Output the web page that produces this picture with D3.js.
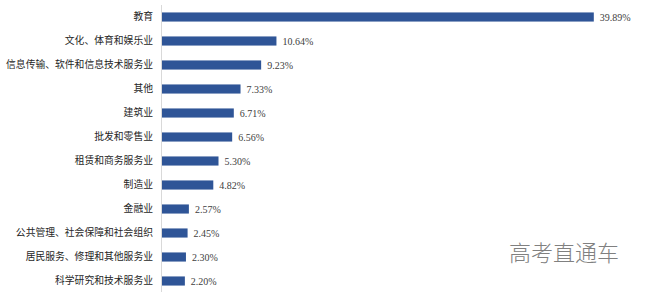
<!DOCTYPE html>
<html>
<head>
<meta charset="utf-8">
<script src="https://cdn.jsdelivr.net/npm/d3@7"></script>
<style>
  body { margin: 0; background: #fff; }
</style>
</head>
<body>
<script>
const categories = ['教育', '文化、体育和娱乐业', '信息传输、软件和信息技术服务业', '其他', '建筑业', '批发和零售业',
  '租赁和商务服务业', '制造业', '金融业', '公共管理、社会保障和社会组织', '居民服务、修理和其他服务业', '科学研究和技术服务业']
const values = [39.89, 10.64, 9.23, 7.33, 6.71, 6.56, 5.30, 4.82, 2.57, 2.45, 2.30, 2.20]
const labels = values.map(v => v.toFixed(2) + '%')

const width = 648, height = 292
const axisX = 161

const svg = d3.select('body').append('svg')
  .attr('width', width).attr('height', height)
  .attr('xmlns', 'http://www.w3.org/2000/svg')

const x = d3.scaleLinear().domain([0, 40]).range([axisX, axisX + 434])
const y = d3.scaleBand().domain(categories).range([5, 293]).paddingInner(0.62).paddingOuter(0.31)

svg.selectAll('rect.bar')
  .data(values)
  .enter()
  .append('rect')
  .attr('class', 'bar')
  .attr('x', x(0))
  .attr('y', (d, i) => y(categories[i]))
  .attr('width', d => x(d) - x(0))
  .attr('height', y.bandwidth())
  .style('fill', '#2F5597')

// category labels via left axis
const yAxis = svg.append('g')
  .attr('transform', `translate(${axisX}, 0)`)
  .call(d3.axisLeft(y).tickSize(0).tickPadding(8))
yAxis.select('.domain').attr('stroke', '#d9d9d9').attr('d', 'M0.5,5V292')
yAxis.selectAll('text')
  .style('font-family', '"Noto Sans CJK SC", sans-serif')
  .style('font-size', '9.8px')
  .style('fill', '#262626')

svg.selectAll('text.val')
  .data(values)
  .enter()
  .append('text')
  .attr('class', 'val')
  .attr('x', d => x(d) + 6)
  .attr('y', (d, i) => y(categories[i]) + y.bandwidth() / 2)
  .attr('dy', '0.35em')
  .style('font-family', '"Liberation Serif", serif')
  .style('font-size', '10px')
  .style('fill', '#404040')
  .text((d, i) => labels[i])

svg.append('text')
  .attr('x', 509)
  .attr('y', 261)
  .style('font-family', '"Noto Sans CJK SC", sans-serif')
  .style('font-size', '22px')
  .style('font-weight', 300)
  .style('fill', '#808080')
  .text('高考直通车')
</script>
</body>
</html>
